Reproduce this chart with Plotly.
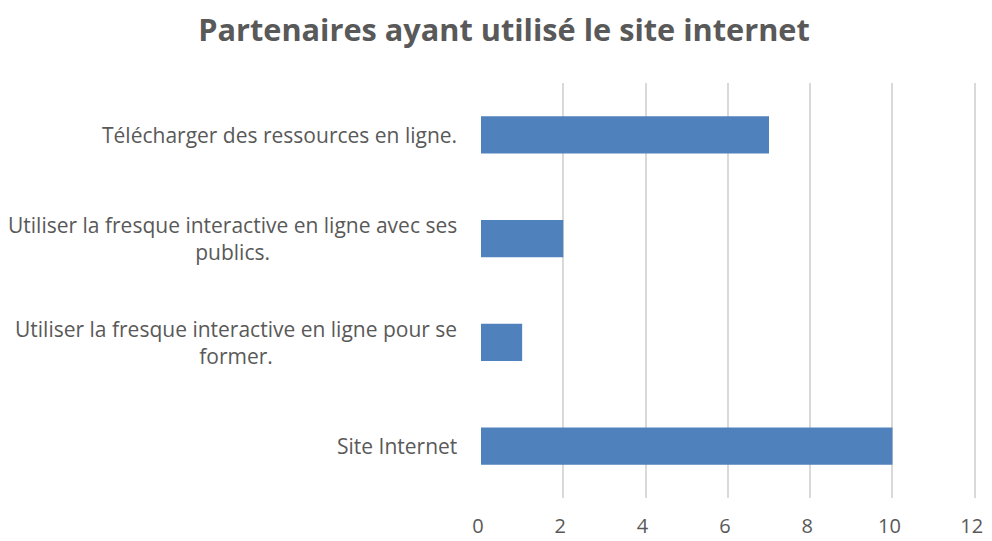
import plotly.graph_objects as go

# catégories de bas en haut (ordre plotly)
categories = [
    "Site Internet",
    "Utiliser la fresque interactive en ligne pour se<br>former.",
    "Utiliser la fresque interactive en ligne avec ses<br>publics.",
    "Télécharger des ressources en ligne.",
]
values = [10, 1, 2, 7]
tick_vals = [0, 2, 4, 6, 8, 10, 12]

grey = "#595959"
font_name = "Open Sans"

fig = go.Figure()
fig.add_trace(go.Bar(
    x=values,
    y=categories,
    orientation="h",
    marker=dict(color="#4F81BD", line=dict(width=0)),
    width=0.36,
))

# étiquettes de catégories centrées (comme Excel)
for cat in categories:
    fig.add_annotation(
        x=0, xref="paper", xshift=-22,
        y=cat, yref="y",
        text=cat, showarrow=False,
        xanchor="right", yanchor="middle", align="center",
        font=dict(family=font_name, size=21, color=grey),
    )

fig.update_layout(
    width=992, height=541,
    margin=dict(l=473, r=24, t=75, b=51, autoexpand=False),
    paper_bgcolor="white", plot_bgcolor="white",
    title=dict(
        text="<b>Partenaires ayant utilisé le site internet</b>",
        x=0.5, xanchor="center", y=1 - 22 / 541, yanchor="middle",
        font=dict(family=font_name, size=30.7, color=grey),
    ),
    showlegend=False,
    xaxis=dict(
        range=[0, 12.03], tickvals=tick_vals, automargin=False,
        showgrid=True, gridcolor="#D9D9D9", gridwidth=1.5,
        zeroline=False, showline=False, ticks="",
        tickfont=dict(family=font_name, size=20, color=grey),
        ticklabelstandoff=14, ticklabelshift=-3,
    ),
    yaxis=dict(
        categoryorder="array", categoryarray=categories, automargin=False,
        showticklabels=False, showgrid=False, zeroline=False,
        showline=False, ticks="",
    ),
)

fig.write_html("out.html")
